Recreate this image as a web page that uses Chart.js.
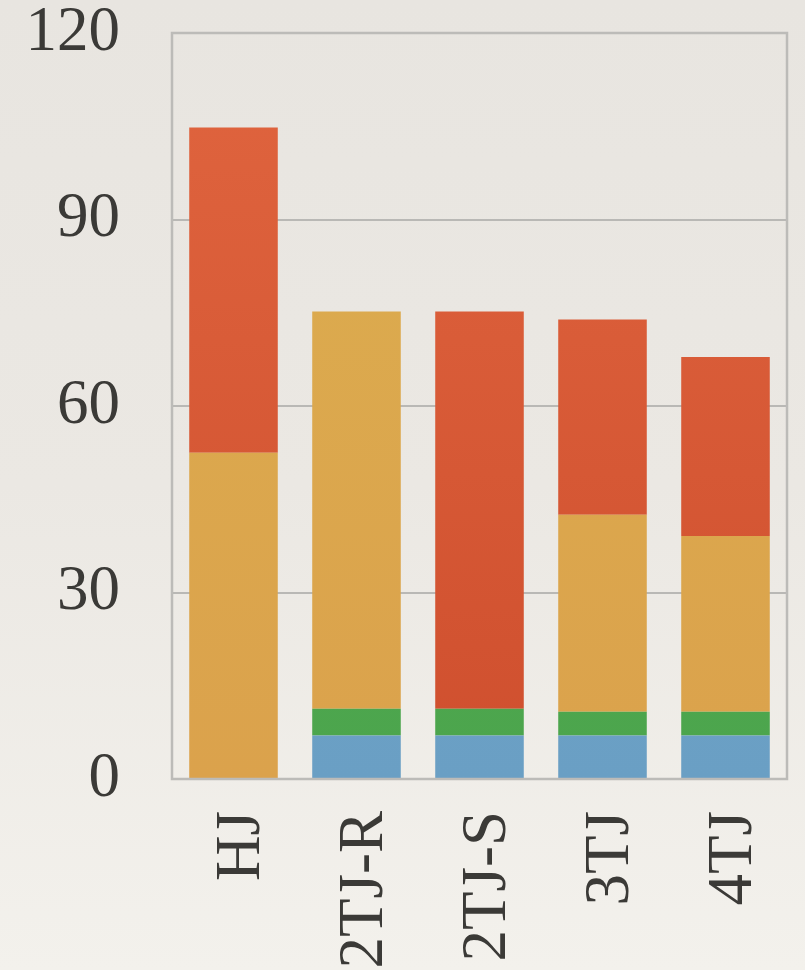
<!DOCTYPE html>
<html lang="en">
<head>
<meta charset="utf-8">
<title>Stacked bars</title>
<script src="https://cdn.jsdelivr.net/npm/chart.js@4.4.1/dist/chart.umd.min.js"></script>
<style>
  html, body { margin: 0; padding: 0; }
  body {
    width: 805px; height: 970px; overflow: hidden;
    background: linear-gradient(to bottom, #e8e5e0 0%, #ebe8e3 50%, #f3f1ec 100%);
  }
  canvas { display: block; }
</style>
</head>
<body>
<canvas id="myChart" width="805" height="970"></canvas>
<script>
  // categories along x
  const labels = ["HJ", "2TJ-R", "2TJ-S", "3TJ", "4TJ"];

  // stacked segments, bottom to top
  const blueVals = [0, 7, 7, 7, 7];
  const greenVals = [0, 4.3, 4.3, 3.8, 3.8];
  const orangeVals = [52.5, 63.9, 0, 31.7, 28.3];
  const redVals = [52.3, 0, 63.9, 31.4, 28.8];

  const yTicks = [0, 30, 60, 90, 120];

  // vertical gradient across the chart area
  function grad(top, bottom) {
    return function (c) {
      const area = c.chart.chartArea;
      if (!area) return bottom;
      const g = c.chart.ctx.createLinearGradient(0, area.top, 0, area.bottom);
      g.addColorStop(0, top);
      g.addColorStop(1, bottom);
      return g;
    };
  }

  // box round the plot
  const frame = {
    id: "frame",
    afterDraw(chart) {
      const a = chart.chartArea, ctx = chart.ctx;
      ctx.save();
      ctx.strokeStyle = "#bcbbb8";
      ctx.lineWidth = 2.5;
      ctx.strokeRect(a.left, a.top, a.right - a.left, a.bottom - a.top);
      ctx.restore();
    }
  };

  const ctx = document.getElementById("myChart").getContext("2d");
  const chart = new Chart(ctx, {
    type: "bar",
    data: {
      labels: labels,
      datasets: [
        { label: "blue", data: blueVals, backgroundColor: grad("#74a9cc", "#6a9fc4") },
        { label: "green", data: greenVals, backgroundColor: grad("#52ab50", "#4ca54d") },
        { label: "orange", data: orangeVals, backgroundColor: grad("#dcae4f", "#dba24c") },
        { label: "red", data: redVals, backgroundColor: grad("#e0653f", "#cf4f2e") }
      ]
    },
    options: {
      responsive: false,
      animation: { duration: 0 },
      datasets: { bar: { barPercentage: 0.72, categoryPercentage: 1.0, borderWidth: 0 } },
      layout: { padding: { left: 0, right: 18, top: 33, bottom: 0 } },
      plugins: { legend: { display: false }, tooltip: { enabled: false } },
      scales: {
        x: {
          stacked: true,
          grid: { display: false, drawTicks: false },
          border: { display: false },
          afterFit(axis) {
            axis.height = 191;
            axis.paddingLeft = 0; axis.paddingRight = 0;
          },
          ticks: {
            maxRotation: 90, minRotation: 90, padding: 32, labelOffset: 9,
            color: "#3b3a37",
            font: { family: "Liberation Serif", size: 63 }
          }
        },
        y: {
          stacked: true,
          min: 0, max: 120,
          afterBuildTicks(axis) { axis.ticks = yTicks.map(v => ({ value: v })); },
          afterFit(axis) {
            axis.width = 172;
            axis.paddingTop = 0; axis.paddingBottom = 0;
          },
          grid: { color: "#b9b8b5", lineWidth: 2, drawTicks: false },
          border: { display: false },
          ticks: {
            padding: 52,
            color: "#3b3a37",
            font: { family: "Liberation Serif", size: 63 }
          }
        }
      }
    },
    plugins: [frame]
  });
</script>
</body>
</html>
